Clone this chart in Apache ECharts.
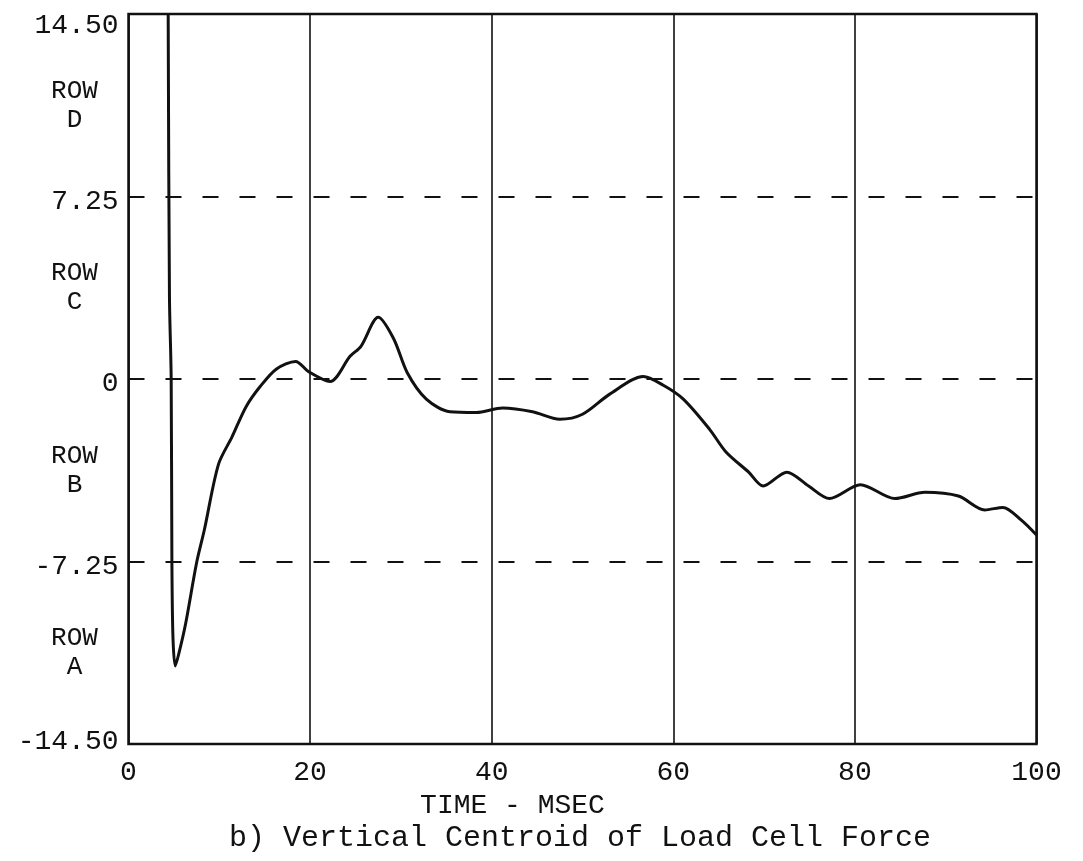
<!DOCTYPE html>
<html>
<head>
<meta charset="utf-8">
<script src="https://cdn.jsdelivr.net/npm/echarts@6/dist/echarts.min.js"></script>
<style>
html,body{margin:0;padding:0;background:#fff;}
#chart{width:1083px;height:861px;}
</style>
</head>
<body>
<div id="chart"></div>
<script>
// Data
const timeMs = [4.37, 4.51, 4.7, 4.78, 4.9, 5.15, 5.55, 6.3, 7.5, 8.35, 9.9, 11.4, 12.95, 14.5, 16.3, 18.4, 19.8, 22.2, 24.4, 25.6, 27.5, 29.2, 30.7, 32.8, 35.4, 38.3, 41.2, 44.5, 47.5, 50.0, 53.0, 56.7, 58.9, 61.1, 64.0, 65.8, 68.3, 69.9, 72.5, 74.9, 77.2, 80.6, 84.4, 87.7, 91.4, 94.3, 96.3, 98.3, 100];
const rowLocation = [14.5, 3.3, 0, -7.3, -10.3, -11.4, -10.9, -9.7, -7.3, -6.0, -3.4, -2.3, -1.1, -0.3, 0.4, 0.7, 0.3, -0.1, 0.9, 1.3, 2.45, 1.6, 0.25, -0.8, -1.3, -1.33, -1.15, -1.3, -1.6, -1.4, -0.6, 0.1, -0.25, -0.8, -2.0, -2.9, -3.7, -4.25, -3.7, -4.25, -4.75, -4.2, -4.75, -4.5, -4.65, -5.2, -5.1, -5.6, -6.2];
const yTicks = [-14.5, -7.25, 0, 7.25, 14.5];
const rowBands = [[-10.875, 'ROW\nA'], [-3.625, 'ROW\nB'], [3.625, 'ROW\nC'], [10.875, 'ROW\nD']];
const xTicks = [0, 20, 40, 60, 80, 100];

const ink = '#111';
const mono = '"Liberation Mono", "DejaVu Sans Mono", monospace';

const seriesData = timeMs.map((t, i) => [t, rowLocation[i]]);

const yMax = yTicks[yTicks.length - 1];
const yMin = yTicks[0];

const chart = echarts.init(document.getElementById('chart'), null, {renderer: 'canvas'});
chart.setOption({
  animation: false,
  backgroundColor: '#fff',
  title: {
    text: 'b) Vertical Centroid of Load Cell Force',
    left: 575,
    top: 818,
    textAlign: 'center',
    textStyle: {fontFamily: mono, fontSize: 30, fontWeight: 'normal', color: ink}
  },
  grid: {
    left: 128.5, right: 1083 - 1036.5, top: 14, bottom: 117,
    containLabel: false, outerBoundsMode: 'none',
    show: true, borderColor: ink, borderWidth: 2.5, backgroundColor: 'transparent'
  },
  xAxis: {
    type: 'value', min: xTicks[0], max: xTicks[xTicks.length - 1], interval: 20,
    name: 'TIME - MSEC', nameLocation: 'middle', nameGap: 48,
    nameTextStyle: {fontFamily: mono, fontSize: 28, color: ink, padding: [0, 140, 0, 0]},
    axisLine: {show: false},
    axisTick: {show: false},
    axisLabel: {fontFamily: mono, fontSize: 28, color: ink, margin: 15},
    splitLine: {show: true, lineStyle: {color: ink, width: 1.6, type: 'solid'}}
  },
  yAxis: [{
    type: 'value', min: yMin, max: yMax, interval: 7.25,
    name: 'ROW LOCATION', nameLocation: 'middle', nameGap: 81,
    nameTextStyle: {fontFamily: mono, fontSize: 29, color: ink},
    axisLine: {show: false},
    axisTick: {show: false},
    axisLabel: {
      fontFamily: mono, fontSize: 28, color: ink, margin: 10,
      formatter: v => {
        const s = Math.abs(v) < 1e-9 ? '0' : v.toFixed(2);
        if (v === yMax) return '{t|' + s + '}';
        if (v === yMin) return '{b|' + s + '}';
        return '{n|' + s + '}';
      },
      rich: {
        t: {fontFamily: mono, fontSize: 28, color: ink, padding: [24, 0, 0, 0]},
        n: {fontFamily: mono, fontSize: 28, color: ink, padding: [10, 0, 0, 0]},
        b: {fontFamily: mono, fontSize: 28, color: ink, padding: [0, 0, 4, 0]}
      }
    },
    splitLine: {show: true, lineStyle: {color: ink, width: 2, type: [16, 21]}}
  }, {
    type: 'value', min: yMin, max: yMax, interval: 3.625,
    position: 'left',
    axisLine: {show: false},
    axisTick: {show: false},
    splitLine: {show: false},
    axisLabel: {
      fontFamily: mono, fontSize: 26, color: ink, margin: 54, align: 'center', lineHeight: 29,
      formatter: v => {
        const b = rowBands.find(r => Math.abs(r[0] - v) < 1e-6);
        return b ? b[1] : '';
      }
    }
  }],
  series: [{
    type: 'line',
    data: seriesData,
    yAxisIndex: 0,
    showSymbol: false,
    smooth: 0.3,
    lineStyle: {color: ink, width: 3},
    clip: true
  }]
});
</script>
</body>
</html>
